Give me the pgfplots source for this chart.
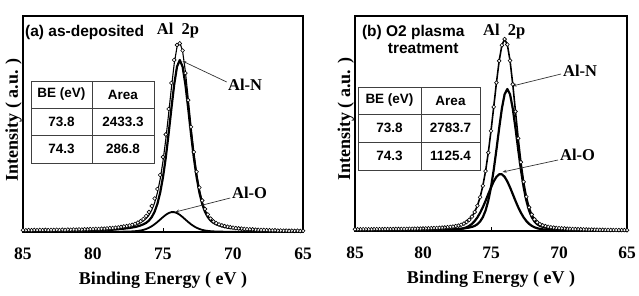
\documentclass[border=0pt]{standalone}
\usepackage{fontspec}
\setmainfont{Liberation Serif}
\newfontfamily\arialfont{Liberation Sans}
\usepackage{pgfplots}
\pgfplotsset{compat=1.18}
\usepackage{pgfplotstable}
\usetikzlibrary{arrows.meta}

\newcommand\labelfont{\fontsize{18}{20}\selectfont\bfseries}
\newcommand\tickfont{\fontsize{17.5}{20}\selectfont\bfseries}
\newcommand\peakfont{\fontsize{16.5}{18}\selectfont\bfseries}
\newcommand\titlefont{\arialfont\fontsize{15.5}{18}\selectfont\bfseries}
\newcommand\tabfont{\arialfont\fontsize{13.5}{15}\selectfont\bfseries}

% Al 2p spectrum, as-deposited: x = binding energy (eV),
% N = Al-N component, O = Al-O component, E = fitted envelope, D = measured points
\pgfplotstableread{
x N O E D
65.0 0.72 0.06 1.1 1.2
65.2 0.75 0.06 1.1 1.0
65.4 0.79 0.06 1.2 1.3
65.6 0.83 0.06 1.2 1.1
65.8 0.87 0.07 1.2 1.3
66.0 0.91 0.07 1.3 1.2
66.2 0.95 0.07 1.3 1.4
66.4 1.00 0.07 1.4 1.3
66.6 1.06 0.08 1.4 1.5
66.8 1.10 0.08 1.5 1.4
67.0 1.18 0.09 1.6 1.7
67.2 1.28 0.09 1.7 1.6
67.4 1.33 0.09 1.7 1.8
67.6 1.45 0.10 1.9 1.9
67.8 1.50 0.11 1.9 2.0
68.0 1.60 0.12 2.0 2.1
68.2 1.70 0.13 2.1 2.2
68.4 1.90 0.14 2.3 2.3
68.6 2.00 0.15 2.5 2.6
68.8 2.20 0.16 2.7 2.7
69.0 2.30 0.17 2.8 2.9
69.2 2.50 0.18 3.0 3.1
69.4 2.80 0.19 3.3 3.4
69.6 3.00 0.21 3.5 3.6
69.8 3.30 0.23 3.8 3.9
70.0 3.70 0.25 4.3 4.4
70.2 4.00 0.27 4.6 4.8
70.4 4.50 0.29 5.1 5.3
70.6 5.00 0.33 5.6 5.9
70.8 5.70 0.37 6.4 6.7
71.0 6.60 0.43 7.3 7.6
71.2 7.70 0.51 8.5 8.9
71.4 9.20 0.63 10.1 10.6
71.6 11.5 0.82 12.6 13.4
71.8 15.0 1.09 16.4 17.5
72.0 20.2 1.52 22.1 23.0
72.2 28.1 2.14 30.6 31.5
72.4 39.4 3.03 42.8 44.5
72.6 54.9 4.24 59.5 60.2
72.8 74.6 5.81 80.8 80.0
73.0 98.1 7.75 106.3 105.1
73.2 123.5 10.0 133.9 131.8
73.4 147.5 12.46 160.4 158.9
73.6 165.3 14.93 180.8 181.5
73.8 172.0 17.18 189.8 188.6
74.0 165.3 18.92 184.9 187.0
74.2 147.5 19.88 168.1 172.0
74.4 123.5 19.88 144.1 149.0
74.6 98.1 18.92 117.9 123.0
74.8 74.6 17.18 92.7 97.5
75.0 54.9 14.93 70.8 75.0
75.2 39.4 12.46 52.9 57.0
75.4 28.1 10.0 39.2 43.0
75.6 20.2 7.75 29.1 33.5
75.8 15.0 5.81 22.0 26.0
76.0 11.5 4.24 16.9 20.0
76.2 9.2 3.03 13.5 16.0
76.4 7.7 2.14 11.1 13.0
76.6 6.6 1.52 9.4 10.8
76.8 5.7 1.09 8.1 9.3
77.0 5.0 0.82 7.1 8.1
77.2 4.5 0.63 6.4 7.2
77.4 4.0 0.51 5.8 6.5
77.6 3.7 0.43 5.4 5.9
77.8 3.3 0.37 5.0 5.5
78.0 3.0 0.33 4.6 5.0
78.2 2.8 0.29 4.4 4.6
78.4 2.5 0.27 4.1 4.3
78.6 2.3 0.25 3.9 4.0
78.8 2.2 0.23 3.7 3.9
79.0 2.0 0.21 3.5 3.6
79.2 1.9 0.19 3.4 3.3
79.4 1.7 0.18 3.2 3.3
79.6 1.6 0.17 3.1 3.0
79.8 1.5 0.16 3.0 3.1
80.0 1.45 0.15 2.9 2.8
80.2 1.33 0.14 2.8 2.9
80.4 1.28 0.14 2.7 2.6
80.6 1.18 0.13 2.6 2.7
80.8 1.10 0.12 2.5 2.4
81.0 1.06 0.12 2.5 2.6
81.2 1.00 0.11 2.4 2.3
81.4 0.95 0.11 2.4 2.5
81.6 0.91 0.10 2.3 2.2
81.8 0.87 0.10 2.3 2.4
82.0 0.83 0.10 2.2 2.1
82.2 0.79 0.09 2.2 2.3
82.4 0.75 0.09 2.1 2.0
82.6 0.72 0.09 2.1 2.2
82.8 0.69 0.08 2.1 2.0
83.0 0.66 0.08 2.0 2.1
83.2 0.63 0.08 2.0 1.9
83.4 0.60 0.07 2.0 2.1
83.6 0.58 0.07 2.0 1.9
83.8 0.56 0.07 1.9 2.0
84.0 0.54 0.07 1.9 1.8
84.2 0.52 0.06 1.9 2.0
84.4 0.50 0.06 1.9 1.8
84.6 0.48 0.06 1.8 1.9
84.8 0.46 0.06 1.8 1.7
85.0 0.44 0.06 1.8 1.8
}\asdep

% Al 2p spectrum after O2 plasma: N = Al-N, O = Al-O, D = measured points (fit passes through them)
\pgfplotstableread{
x N O D
65.0 0.37 0.17 0.8
65.2 0.38 0.18 0.9
65.4 0.40 0.19 0.9
65.6 0.42 0.20 0.9
65.8 0.44 0.21 1.0
66.0 0.47 0.22 1.0
66.2 0.49 0.23 1.0
66.4 0.52 0.24 1.1
66.6 0.55 0.25 1.1
66.8 0.58 0.27 1.2
67.0 0.61 0.28 1.2
67.2 0.65 0.30 1.3
67.4 0.69 0.32 1.3
67.6 0.74 0.34 1.4
67.8 0.78 0.36 1.4
68.0 0.83 0.38 1.5
68.2 0.89 0.41 1.6
68.4 0.96 0.43 1.7
68.6 1.00 0.46 1.8
68.8 1.10 0.50 1.9
69.0 1.20 0.51 2.0
69.2 1.30 0.55 2.2
69.4 1.40 0.60 2.3
69.6 1.60 0.64 2.5
69.8 1.70 0.70 2.7
70.0 1.90 0.76 2.9
70.2 2.10 0.83 3.1
70.4 2.30 0.92 3.4
70.6 2.60 1.04 3.7
70.8 3.00 1.18 4.2
71.0 3.50 1.39 4.9
71.2 4.10 1.68 5.7
71.4 5.10 2.11 6.8
71.6 6.80 2.75 8.7
71.8 9.50 3.71 11.7
72.0 13.8 5.13 16.4
72.2 20.4 7.15 23.6
72.4 30.3 9.93 34.3
72.6 43.8 13.61 49.2
72.8 61.2 18.24 68.8
73.0 81.4 23.81 92.7
73.2 102.8 30.14 119.5
73.4 122.5 36.90 146.7
73.6 136.7 43.59 170.4
73.8 142.0 49.59 186.5
74.0 136.7 54.17 191.9
74.2 122.5 56.68 185.7
74.4 102.8 56.68 170.1
74.6 81.4 54.17 148.3
74.8 61.2 49.59 124.1
75.0 43.8 43.59 100.1
75.2 30.3 36.90 78.3
75.4 20.4 30.14 59.9
75.6 13.8 23.81 45.2
75.8 9.5 18.24 33.8
76.0 6.8 13.61 25.3
76.2 5.1 9.93 19.0
76.4 4.1 7.15 14.4
76.6 3.5 5.13 11.2
76.8 3.0 3.71 9.0
77.0 2.6 2.75 7.3
77.2 2.3 2.11 6.2
77.4 2.1 1.68 5.4
77.6 1.9 1.39 4.9
77.8 1.7 1.18 4.4
78.0 1.6 1.04 4.1
78.2 1.4 0.92 3.8
78.4 1.3 0.83 3.5
78.6 1.2 0.76 3.4
78.8 1.1 0.70 3.2
79.0 1.0 0.64 3.0
79.2 0.96 0.60 2.9
79.4 0.89 0.55 2.8
79.6 0.83 0.51 2.7
79.8 0.78 0.50 2.6
80.0 0.74 0.46 2.5
80.2 0.69 0.43 2.4
80.4 0.65 0.41 2.4
80.6 0.61 0.38 2.3
80.8 0.58 0.36 2.2
81.0 0.55 0.34 2.2
81.2 0.52 0.32 2.1
81.4 0.49 0.30 2.1
81.6 0.47 0.28 2.1
81.8 0.44 0.27 2.0
82.0 0.42 0.25 2.0
82.2 0.40 0.24 1.9
82.4 0.38 0.23 1.9
82.6 0.37 0.22 1.9
82.8 0.35 0.21 1.9
83.0 0.34 0.20 1.8
83.2 0.32 0.19 1.8
83.4 0.31 0.18 1.8
83.6 0.30 0.17 1.8
83.8 0.28 0.17 1.7
84.0 0.27 0.16 1.7
84.2 0.26 0.15 1.7
84.4 0.25 0.15 1.7
84.6 0.24 0.14 1.7
84.8 0.23 0.14 1.7
85.0 0.23 0.13 1.7
}\plasma

\pgfplotsset{
  xps/.style={
    scale only axis, x dir=reverse,
    xmin=65, xmax=85, ymin=0,
    axis line style={line width=1.6pt},
    xtick={65,70,75,80,85}, ytick=\empty,
    major tick length=0pt, xtick pos=lower,
    extra x ticks={75}, extra x tick labels={},
    extra x tick style={major tick length=4pt, tick align=inside,
      tick style={line width=0.9pt, black}},
    /pgf/number format/assume math mode=true,
    xticklabel style={font=\tickfont, anchor=base, yshift=-27pt},
    xlabel={Binding Energy ( eV )},
    ylabel={Intensity ( a.u. )},
    label style={font=\labelfont},
    xlabel style={at={(axis description cs:0.5,0)}, anchor=base, yshift=-52pt},
    % the label is turned upright, so its yshift moves it to the left
    ylabel style={at={(axis description cs:0,0.52)}, anchor=base, yshift=5pt},
  },
  comp/.style={black, line width=2.2pt, line join=round},
  fit/.style={black, line width=1.1pt},
  pts/.style={only marks, mark=*, mark size=1.9pt,
    mark options={fill=white, draw=black, line width=0.6pt}},
}
\tikzset{
  lead/.style={gray!40!black, line width=0.7pt, -{Stealth[length=4pt,width=3pt]}},
}

\begin{document}
\begin{tikzpicture}
\useasboundingbox (0pt,0pt) rectangle (639pt,295pt);

% (a) as-deposited
\begin{axis}[xps, at={(23pt,63pt)}, anchor=south west,
    width=280pt, height=216pt, ymax=216]
  \addplot[comp] table[x=x, y=N] {\asdep};
  \addplot[comp, line width=1.8pt] table[x=x, y=O] {\asdep};
  \addplot[fit] table[x=x, y=E] {\asdep};
  \addplot[pts] table[x=x, y=D] {\asdep};
  \node[anchor=west, font=\titlefont, inner sep=0pt] at (axis cs:84.86,200) {(a) as-deposited};
  \node[anchor=west, font=\peakfont, inner sep=0pt] at (axis cs:75.45,201) {Al\ \ 2p};
  \node[anchor=west, font=\peakfont, inner sep=0pt] at (axis cs:70.36,147) {Al-N};
  \node[anchor=west, font=\peakfont, inner sep=0pt] at (axis cs:70.07,39) {Al-O};
  \draw[lead] (axis cs:70.45,150) -- (axis cs:73.62,171);
  \draw[lead] (axis cs:70.20,34) -- (axis cs:74.12,20);
\end{axis}

% (b) after O2 plasma treatment
\begin{axis}[xps, at={(355pt,64pt)}, anchor=south west,
    width=272pt, height=215pt, ymax=215]
  \addplot[comp] table[x=x, y=N] {\plasma};
  \addplot[comp] table[x=x, y=O] {\plasma};
  \addplot[fit, line width=1.6pt] table[x=x, y=D] {\plasma};
  \addplot[pts] table[x=x, y=D] {\plasma};
  \node[anchor=west, font=\titlefont, inner sep=0pt] at (axis cs:84.5,199) {(b) O2 plasma};
  \node[anchor=west, font=\titlefont, inner sep=0pt] at (axis cs:82.6,182) {treatment};
  \node[anchor=west, font=\peakfont, inner sep=0pt] at (axis cs:75.59,199) {Al\ \ 2p};
  \node[anchor=west, font=\peakfont, inner sep=0pt] at (axis cs:69.71,160) {Al-N};
  \node[anchor=west, font=\peakfont, inner sep=0pt] at (axis cs:69.93,76) {Al-O};
  \draw[lead] (axis cs:69.85,157) -- (axis cs:73.42,145);
  \draw[lead] (axis cs:70.07,71) -- (axis cs:74.15,59);
\end{axis}

% fitted peak table, panel (a)
\draw[gray!50!black, line width=0.6pt] (31pt,132pt) rectangle (154pt,214pt);
\draw[gray!50!black, line width=0.6pt] (92pt,132pt) -- (92pt,214pt)
  (31pt,187pt) -- (154pt,187pt) (31pt,160pt) -- (154pt,160pt);
\node[font=\tabfont] at (61.5pt,200.5pt) {BE (eV)};
\node[font=\tabfont] at (123pt,200.5pt) {Area};
\node[font=\tabfont] at (61.5pt,173.5pt) {73.8};
\node[font=\tabfont] at (123pt,173.5pt) {2433.3};
\node[font=\tabfont] at (61.5pt,146pt) {74.3};
\node[font=\tabfont] at (123pt,146pt) {286.8};

% fitted peak table, panel (b)
\draw[gray!50!black, line width=0.6pt] (358pt,125pt) rectangle (480pt,208pt);
\draw[gray!50!black, line width=0.6pt] (421pt,125pt) -- (421pt,208pt)
  (358pt,181pt) -- (480pt,181pt) (358pt,153pt) -- (480pt,153pt);
\node[font=\tabfont] at (389.5pt,194.5pt) {BE (eV)};
\node[font=\tabfont] at (450.5pt,194.5pt) {Area};
\node[font=\tabfont] at (389.5pt,167pt) {73.8};
\node[font=\tabfont] at (450.5pt,167pt) {2783.7};
\node[font=\tabfont] at (389.5pt,139pt) {74.3};
\node[font=\tabfont] at (450.5pt,139pt) {1125.4};
\end{tikzpicture}
\end{document}
